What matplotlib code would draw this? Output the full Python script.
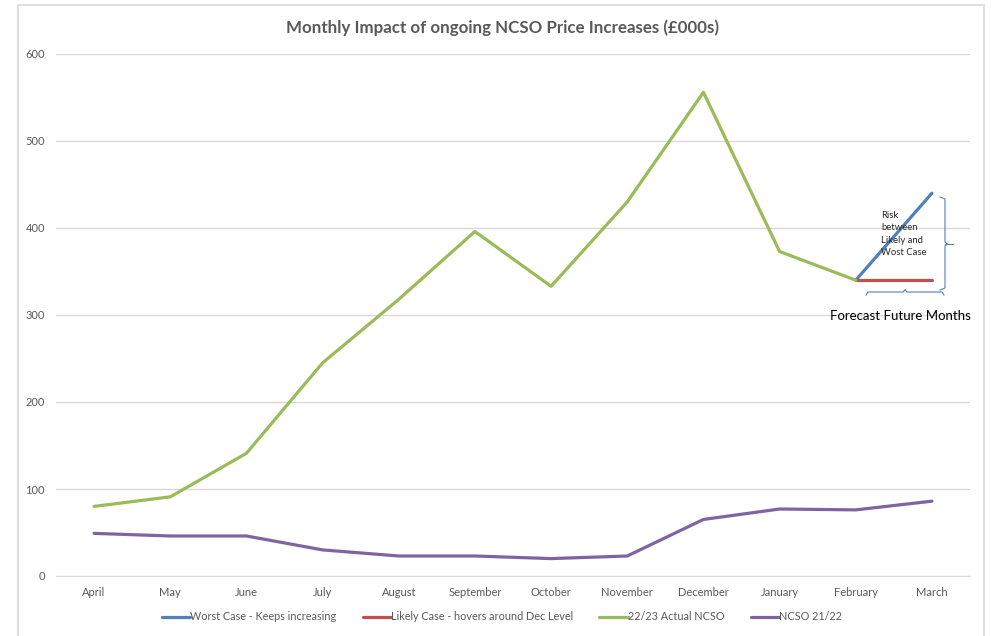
import numpy as np
import matplotlib.pyplot as plt
from matplotlib.patches import Rectangle

months = ['April', 'May', 'June', 'July', 'August', 'September', 'October',
          'November', 'December', 'January', 'February', 'March']
actual_2223 = [80, 91, 141, 245, 318, 396, 333, 430, 556, 373, 340]
ncso_2122 = [49, 46, 46, 30, 23, 23, 20, 23, 65, 77, 76, 86]
worst_case = [340, 440]      # February -> March
likely_case = [340, 340]     # February -> March

plt.rcParams['font.family'] = ['Lato', 'DejaVu Sans']

W, H = 991, 636
fig = plt.figure(figsize=(W / 100, H / 100), dpi=100)

def px(x, y):
    # pixel (from top-left) to figure fraction
    return x / W, 1 - y / H

# chart border
fig.patches.append(Rectangle(px(18, 640), (984 - 18) / W, (640 - 5) / H,
                             transform=fig.transFigure, fill=False,
                             edgecolor='#d9d9d9', linewidth=1.2))

x0, y1 = px(56, 54)
x1, y0 = px(970, 576)
ax = fig.add_axes([x0, y0, x1 - x0, y1 - y0])

x = np.arange(len(months))
grey = '#595959'
ax.plot(x[10:12], worst_case, color='#4f81bd', lw=2.3, label='Worst Case - Keeps increasing',
        solid_capstyle='round')
ax.plot(x[10:12], likely_case, color='#c0504d', lw=2.3, label='Likely Case - hovers around Dec Level',
        solid_capstyle='round')
ax.plot(x[:11], actual_2223, color='#9bbb59', lw=2.3, label='22/23 Actual NCSO',
        solid_capstyle='round')
ax.plot(x, ncso_2122, color='#8064a2', lw=2.3, label='NCSO 21/22',
        solid_capstyle='round')

ax.set_xlim(-0.5, 11.5)
ax.set_ylim(0, 600)
ax.set_yticks(range(0, 601, 100))
ax.set_xticks(x)
ax.set_xticklabels(months)
ax.grid(axis='y', color='#d9d9d9', lw=1)
ax.set_axisbelow(True)
for s in ['top', 'right', 'left']:
    ax.spines[s].set_visible(False)
ax.spines['bottom'].set_color('#d9d9d9')
ax.tick_params(length=0, labelsize=8, colors=grey)
ax.tick_params(axis='x', pad=8)
ax.tick_params(axis='y', pad=8)

fig.text(*px(502, 28), 'Monthly Impact of ongoing NCSO Price Increases (£000s)',
         ha='center', va='center', fontsize=12.2, fontweight='bold', color=grey)

leg = fig.legend(loc='center', bbox_to_anchor=px(502, 617), ncol=4, frameon=False,
                 fontsize=7.8, handlelength=2.6, handletextpad=0.05, columnspacing=2.4)
for t in leg.get_texts():
    t.set_color(grey)

# annotation: risk bracket and forecast bracket
bc = '#4f81bd'
def fline(xs, ys):
    pts = [px(a, b) for a, b in zip(xs, ys)]
    fig.add_artist(plt.Line2D([p[0] for p in pts], [p[1] for p in pts],
                              transform=fig.transFigure, color=bc, lw=0.8))

fline([940, 945, 945, 947], [197, 199, 242, 244])
fline([947, 945, 945, 940], [244, 246, 288, 290])
fline([945, 953], [244, 244])
fline([866, 868, 903, 905], [295, 292, 292, 290])
fline([905, 907, 942, 944], [290, 292, 292, 295])

fig.text(*px(881, 234), 'Risk\nbetween\nLikely and\nWost Case', ha='left', va='center',
         fontsize=6.8, color='#262626', linespacing=1.45)
fig.text(*px(830, 316), 'Forecast Future Months', ha='left', va='center',
         fontsize=9.5, color='black')

fig.savefig('out.png', dpi=100)
